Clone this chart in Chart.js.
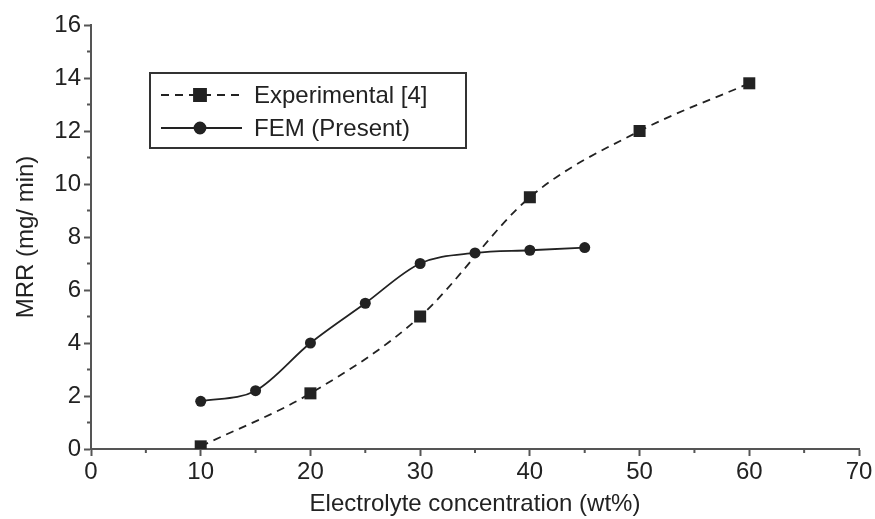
<!DOCTYPE html>
<html>
<head>
<meta charset="utf-8">
<script src="https://cdn.jsdelivr.net/npm/chart.js@4/dist/chart.umd.min.js"></script>
<style>
  html, body { margin: 0; padding: 0; background: #fff; }
  #wrap { width: 875px; height: 519px; }
</style>
</head>
<body>
<div id="wrap"><canvas id="mrrChart" width="875" height="519"></canvas></div>
<script>
// Data
var expX = [10, 20, 30, 40, 50, 60];
var expY = [0.1, 2.1, 5.0, 9.5, 12.0, 13.8];
var femX = [10, 15, 20, 25, 30, 35, 40, 45];
var femY = [1.8, 2.2, 4.0, 5.5, 7.0, 7.4, 7.5, 7.6];
var seriesNames = ['Experimental [4]', 'FEM (Present)'];

var ink = '#222';
var axisInk = '#555';
var font = { family: "'Liberation Sans', Arial, sans-serif", size: 24 };

function toPoints(xs, ys) {
    return xs.map(function (x, i) { return { x: x, y: ys[i] }; });
}

// Kleine tussenstreepjes op de assen
var minorTicks = {
    id: 'minorTicks',
    afterDraw: function (chart) {
        var c = chart.ctx, xs = chart.scales.x, ys = chart.scales.y;
        var a = chart.chartArea;
        c.save();
        c.strokeStyle = axisInk;
        c.lineWidth = 2;
        c.beginPath();
        for (var v = 5; v < 70; v += 10) {
            var px = xs.getPixelForValue(v);
            c.moveTo(px, a.bottom); c.lineTo(px, a.bottom + 4);
        }
        for (var w = 1; w < 16; w += 2) {
            var py = ys.getPixelForValue(w);
            c.moveTo(a.left, py); c.lineTo(a.left - 4, py);
        }
        c.stroke();
        c.restore();
    }
};

// Legenda in een kader binnen het plotvlak
var boxLegend = {
    id: 'boxLegend',
    afterDraw: function (chart) {
        var c = chart.ctx;
        var left = 150, top = 73, right = 466, bottom = 148;
        c.save();
        c.fillStyle = '#fff';
        c.fillRect(left, top, right - left, bottom - top);
        c.strokeStyle = '#333';
        c.lineWidth = 2;
        c.strokeRect(left, top, right - left, bottom - top);
        var rows = [95, 128];
        chart.data.datasets.forEach(function (ds, i) {
            var y = rows[i];
            c.strokeStyle = ds.borderColor;
            c.lineWidth = ds.borderWidth;
            c.setLineDash(ds.borderDash || []);
            c.beginPath();
            c.moveTo(161, y); c.lineTo(242, y);
            c.stroke();
            c.setLineDash([]);
            Chart.helpers.drawPoint(c, {
                pointStyle: ds.pointStyle,
                radius: ds.pointRadius,
                borderWidth: 1
            }, 200, y);
            c.fillStyle = ds.pointBackgroundColor;
            c.fill();
            c.fillStyle = ink;
            c.font = font.size + 'px ' + font.family;
            c.textBaseline = 'middle';
            c.fillText(ds.label, 254, y + 1);
        });
        c.restore();
    }
};

var ctx = document.getElementById('mrrChart').getContext('2d');

new Chart(ctx, {
    type: 'line',
    data: {
        datasets: [
            {
                label: seriesNames[0],
                data: toPoints(expX, expY),
                borderColor: ink,
                borderWidth: 1.8,
                borderDash: [8, 6],
                pointStyle: 'rect',
                pointRadius: 8.5,
                pointBackgroundColor: ink,
                pointBorderColor: ink,
                pointBorderWidth: 0,
                cubicInterpolationMode: 'monotone',
                fill: false
            },
            {
                label: seriesNames[1],
                data: toPoints(femX, femY),
                borderColor: ink,
                borderWidth: 1.8,
                pointStyle: 'circle',
                pointRadius: 5.5,
                pointBackgroundColor: ink,
                pointBorderColor: ink,
                pointBorderWidth: 0,
                cubicInterpolationMode: 'monotone',
                fill: false
            }
        ]
    },
    options: {
        responsive: false,
        animation: false,
        layout: { padding: { left: 0, right: 16, top: 25, bottom: 0 } },
        plugins: {
            legend: { display: false },
            tooltip: { enabled: false }
        },
        scales: {
            x: {
                type: 'linear',
                min: 0, max: 70,
                afterFit: function (s) { s.height = 70; },
                border: { color: axisInk, width: 2 },
                grid: { drawOnChartArea: false, tickLength: 7, tickColor: axisInk, tickWidth: 2 },
                ticks: { stepSize: 10, color: ink, font: font, padding: 2, maxRotation: 0 },
                title: { display: true, text: 'Electrolyte concentration (wt%)', color: ink, font: font, padding: { top: 0, bottom: 0 } }
            },
            y: {
                min: 0, max: 16,
                afterFit: function (s) { s.width = 91; },
                border: { color: axisInk, width: 2 },
                grid: { drawOnChartArea: false, tickLength: 7, tickColor: axisInk, tickWidth: 2 },
                ticks: { stepSize: 2, color: ink, font: font, padding: 3 },
                title: { display: true, text: 'MRR (mg/ min)', color: ink, font: font, padding: { top: 12, bottom: 0 } }
            }
        }
    },
    plugins: [minorTicks, boxLegend]
});
</script>
</body>
</html>
